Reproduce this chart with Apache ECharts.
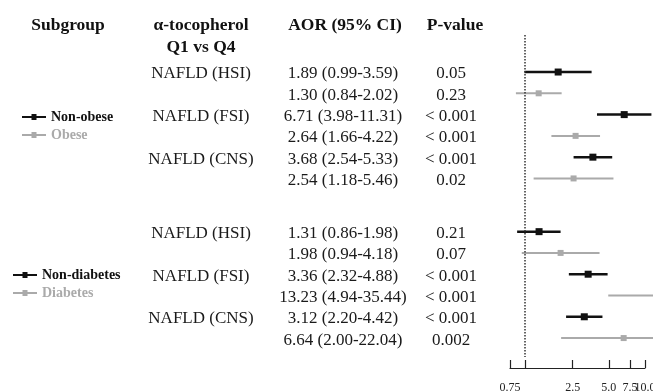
<!DOCTYPE html>
<html><head><meta charset="utf-8">
<script src="https://cdn.jsdelivr.net/npm/echarts@6/dist/echarts.min.js"></script>
<style>html,body{margin:0;padding:0;background:#fff}#c{width:653px;height:391px}</style>
</head><body><div id="c"></div>
<script>
// ---- data ----
const outcomes = ['NAFLD (HSI)', 'NAFLD (FSI)', 'NAFLD (CNS)'];
const groupNames = [['Non-obese', 'Obese'], ['Non-diabetes', 'Diabetes']];
const nonObeseAOR = [1.89, 6.71, 3.68];
const nonObeseLow = [0.99, 3.98, 2.54];
const nonObeseHigh = [3.59, 11.31, 5.33];
const nonObeseP = ['0.05', '< 0.001', '< 0.001'];
const obeseAOR = [1.30, 2.64, 2.54];
const obeseLow = [0.84, 1.66, 1.18];
const obeseHigh = [2.02, 4.22, 5.46];
const obeseP = ['0.23', '< 0.001', '0.02'];
const nonDiabAOR = [1.31, 3.36, 3.12];
const nonDiabLow = [0.86, 2.32, 2.20];
const nonDiabHigh = [1.98, 4.88, 4.42];
const nonDiabP = ['0.21', '< 0.001', '< 0.001'];
const diabAOR = [1.98, 13.23, 6.64];
const diabLow = [0.94, 4.94, 2.00];
const diabHigh = [4.18, 35.44, 22.04];
const diabP = ['0.07', '< 0.001', '0.002'];
const xTicks = [0.75, 1, 2.5, 5, 7.5, 10];
const xLabelsA = [0.75, 2.5, 7.5];
const xLabelsB = [5, 10];
const headers = ['Subgroup', 'α-tocopherol', 'AOR (95% CI)', 'P-value'];
const header2 = 'Q1 vs Q4';

// ---- layout helpers ----
const SERIF = 'Liberation Serif, Times New Roman, serif';
const BLACK = '#111';
const GREY = '#aaa';
function rowPos(g, o, s) { return g * 7.5 + o * 2 + s; }

const seriesDefs = [
  {name: 'Non-obese', g: 0, s: 0, aor: nonObeseAOR, lo: nonObeseLow, hi: nonObeseHigh, p: nonObeseP, color: BLACK},
  {name: 'Obese', g: 0, s: 1, aor: obeseAOR, lo: obeseLow, hi: obeseHigh, p: obeseP, color: GREY},
  {name: 'Non-diabetes', g: 1, s: 0, aor: nonDiabAOR, lo: nonDiabLow, hi: nonDiabHigh, p: nonDiabP, color: BLACK},
  {name: 'Diabetes', g: 1, s: 1, aor: diabAOR, lo: diabLow, hi: diabHigh, p: diabP, color: GREY}
];

const chart = echarts.init(document.getElementById('c'), null, {renderer: 'canvas'});

function makeRender(color, lw, sz) {
  return function (params, api) {
    const y = api.value(3);
    const pL = api.coord([api.value(1), y]);
    const pH = api.coord([api.value(2), y]);
    const pM = api.coord([api.value(0), y]);
    return {
      type: 'group',
      children: [
        {type: 'line', shape: {x1: pL[0], y1: pL[1], x2: pH[0], y2: pH[1]}, style: {stroke: color, lineWidth: lw}},
        {type: 'rect', shape: {x: pM[0] - sz / 2, y: pM[1] - sz / 2, width: sz, height: sz}, style: {fill: color}}
      ]
    };
  };
}

const series = seriesDefs.map((d, i) => {
  const s = {
    name: d.name,
    type: 'custom',
    clip: false,
    itemStyle: {color: d.color},
    encode: {x: [0, 1, 2], y: 3},
    data: d.aor.map((v, o) => [v, d.lo[o], d.hi[o], rowPos(d.g, o, d.s)]),
    renderItem: makeRender(d.color, d.color === BLACK ? 2.5 : 2, d.color === BLACK ? 7 : 6)
  };
  if (i === 0) {
    s.markLine = {
      silent: true, symbol: ['none', 'none'], label: {show: false},
      lineStyle: {type: [1.5, 1.5], color: '#333', width: 1.5},
      data: [{xAxis: 1}]
    };
  }
  return s;
});

const legendIcon = 'path://M0,2H9.5V0H14.5V2H24V4H14.5V6H9.5V4H0Z';
function legendCfg(names, left, top) {
  return {
    orient: 'vertical', left: left, top: top, padding: 0, itemGap: 0,
    itemWidth: 24, itemHeight: 6, icon: legendIcon, selectedMode: false,
    textStyle: {fontFamily: SERIF, fontWeight: 'bold', fontSize: 14, lineHeight: 18},
    data: [
      {name: names[0], textStyle: {color: BLACK}},
      {name: names[1], textStyle: {color: GREY}}
    ]
  };
}

const labelFmt = v => Number(v).toFixed(Number(v) < 1 ? 2 : 1);
function xAxisCfg(labels, showLine) {
  return {
    type: 'log', logBase: 10, min: 0.75, max: 10, position: 'bottom', offset: 11,
    axisLine: {show: showLine, onZero: false, lineStyle: {color: '#222', width: 1.2}},
    axisTick: {show: showLine, inside: true, length: 8, customValues: xTicks, lineStyle: {color: '#222', width: 1.2}},
    axisLabel: {
      customValues: labels, margin: 14, fontFamily: SERIF, fontSize: 12, color: '#222',
      hideOverlap: false, formatter: labelFmt
    },
    splitLine: {show: false}, minorTick: {show: false}
  };
}

chart.setOption({
  animation: false,
  backgroundColor: '#fff',
  grid: {left: 510, width: 135, top: 35, height: 322, outerBoundsMode: 'none', containLabel: false},
  xAxis: [xAxisCfg(xLabelsA, true), xAxisCfg(xLabelsB, false)],
  yAxis: {type: 'value', inverse: true, min: -1.74, max: 13.39, show: false},
  legend: [legendCfg(groupNames[0], 22, 108), legendCfg(groupNames[1], 13, 266)],
  series: series
});

// ---- table text ----
const graphics = [];
const colX = [68, 201, 343, 451];
function txt(t, x, y, opt) {
  graphics.push({
    type: 'text', x: x, y: y, silent: true,
    style: Object.assign({text: t, fontFamily: SERIF, fontSize: 17, fill: '#1a1a1a', align: 'center', verticalAlign: 'middle'}, opt || {})
  });
}
const headX = [68, 201, 345, 455];
headers.forEach((h, i) => txt(h, headX[i], 25, {fontWeight: 'bold', fontSize: 17.5, fill: '#111'}));
txt(header2, 201, 47, {fontWeight: 'bold', fontSize: 17.5, fill: '#111'});

seriesDefs.forEach(d => {
  d.aor.forEach((v, o) => {
    const py = chart.convertToPixel({yAxisIndex: 0}, rowPos(d.g, o, d.s)) + 2;
    if (d.s === 0) txt(outcomes[o], colX[1], py);
    txt(v.toFixed(2) + ' (' + d.lo[o].toFixed(2) + '-' + d.hi[o].toFixed(2) + ')', colX[2], py);
    txt(d.p[o], colX[3], py);
  });
});
chart.setOption({graphic: graphics});
</script></body></html>
